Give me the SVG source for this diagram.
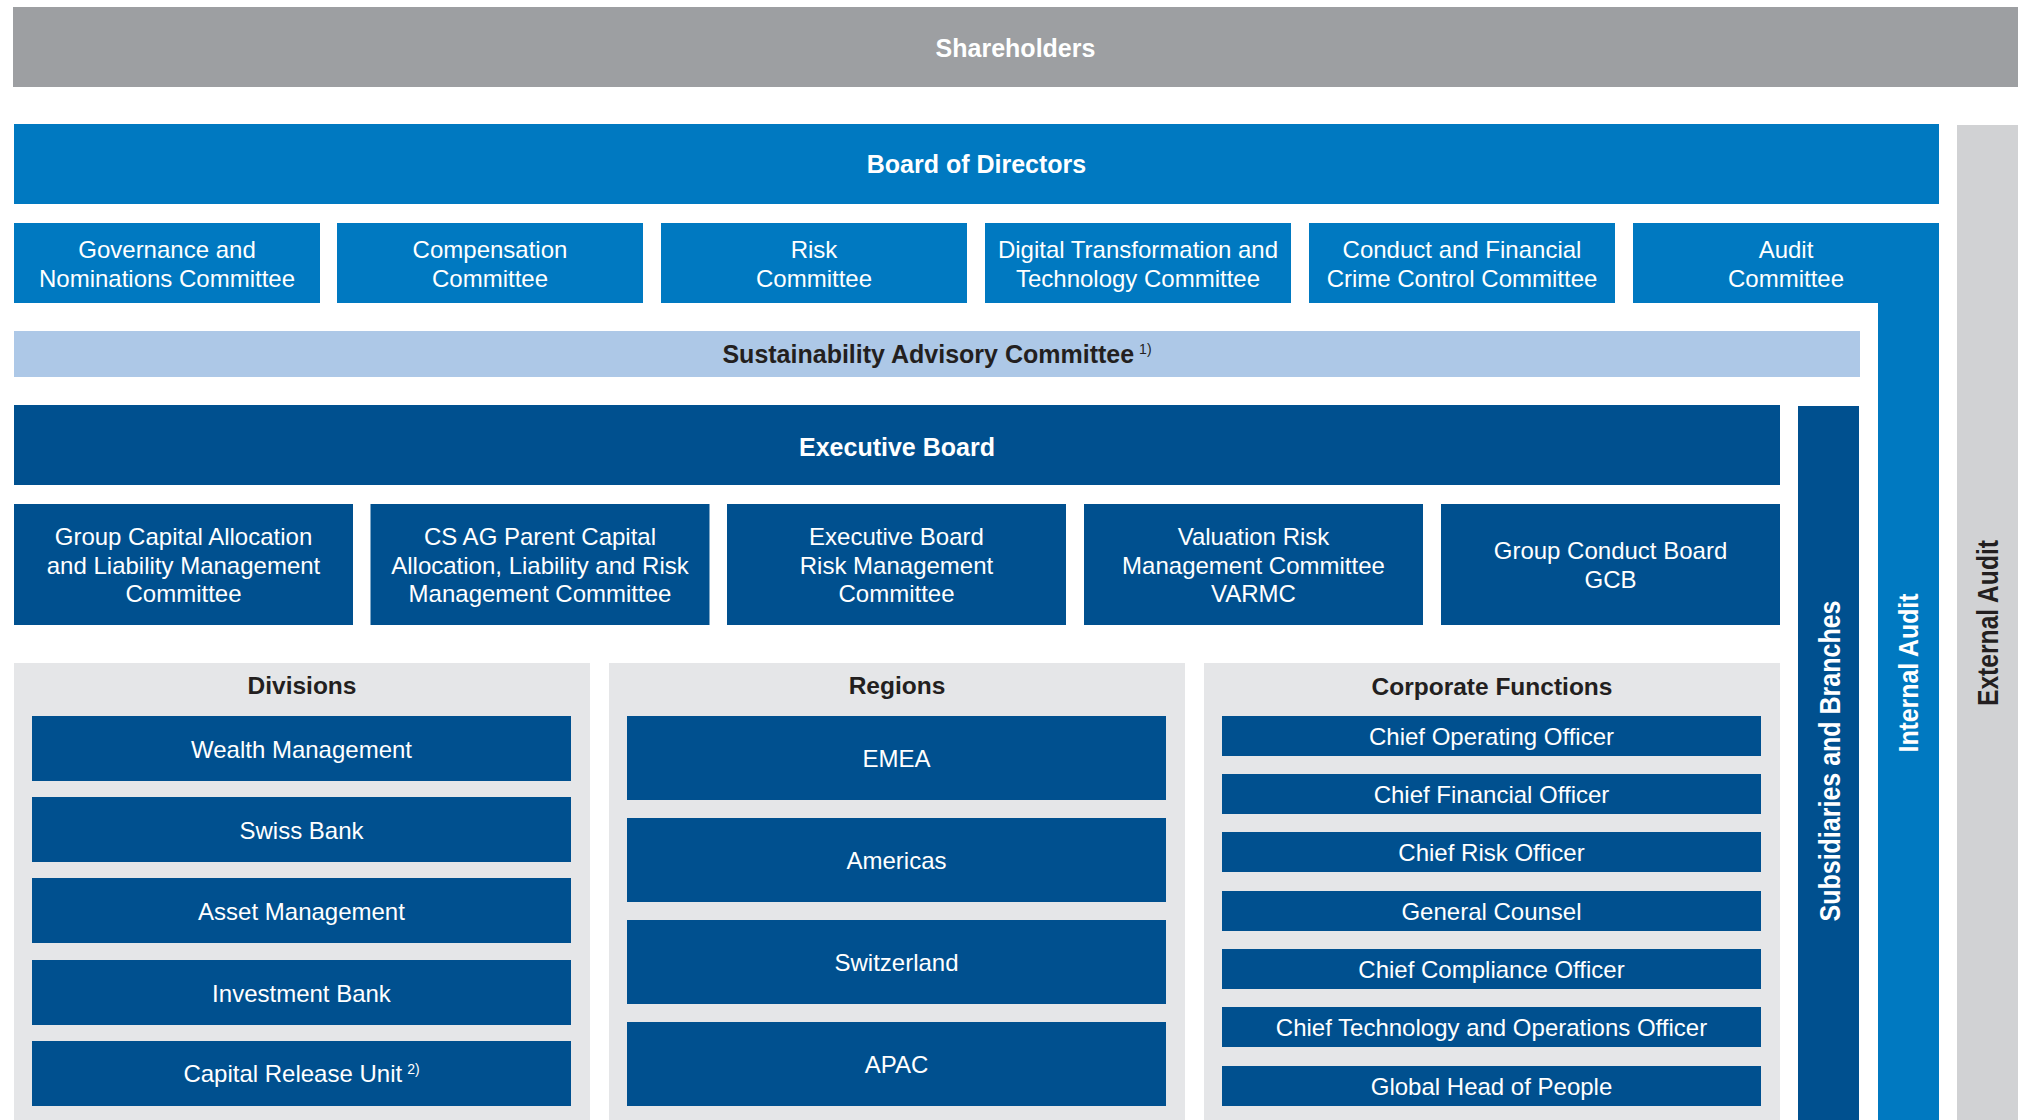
<svg xmlns="http://www.w3.org/2000/svg" width="2027" height="1120" viewBox="0 0 2027 1120">
<style>
text{font-family:"Liberation Sans",Arial,sans-serif}
.w{fill:#fff;font-size:24px;text-anchor:middle}
.wb{fill:#fff;font-size:25px;font-weight:bold;text-anchor:middle}
.db{fill:#231f20;font-size:25px;font-weight:bold;text-anchor:middle}
.hd{fill:#231f20;font-size:24.5px;font-weight:bold;text-anchor:middle}
.sup{font-size:14px;font-weight:normal}
.gray{fill:#9d9fa2}
.blue{fill:#0079c1}
.dark{fill:#00508f}
.light{fill:#adc8e7}
.panel{fill:#e5e6e8}
.ext{fill:#d1d2d4}
</style>
<rect width="2027" height="1120" fill="#fff"/>
<g id="connectors"></g>
<g id="shareholders"><rect class="gray" x="13" y="7" width="2005" height="80"/><text class="wb" x="1015.5" y="57">Shareholders</text></g>
<g id="external-audit"><rect class="ext" x="1957" y="125" width="61" height="995"/><text transform="translate(1998,623) rotate(-90)" style="fill:#231f20;font-size:29px;font-weight:bold;text-anchor:middle" textLength="166" lengthAdjust="spacingAndGlyphs">External Audit</text></g>
<g id="board-of-directors"><rect class="blue" x="14" y="124" width="1925" height="80"/><text class="wb" x="976.5" y="173">Board of Directors</text></g>
<g id="internal-audit"><rect class="blue" x="1878" y="223" width="61" height="897"/><text transform="translate(1918,673) rotate(-90)" style="fill:#fff;font-size:28px;font-weight:bold;text-anchor:middle" textLength="159" lengthAdjust="spacingAndGlyphs">Internal Audit</text></g>
<g id="governance-committee"><rect class="blue" x="14" y="223" width="306" height="80"/><text class="w" x="167" y="258">Governance and</text><text class="w" x="167" y="286.5">Nominations Committee</text></g>
<g id="compensation-committee"><rect class="blue" x="337" y="223" width="306" height="80"/><text class="w" x="490" y="258">Compensation</text><text class="w" x="490" y="286.5">Committee</text></g>
<g id="risk-committee"><rect class="blue" x="661" y="223" width="306" height="80"/><text class="w" x="814" y="258">Risk</text><text class="w" x="814" y="286.5">Committee</text></g>
<g id="digital-committee"><rect class="blue" x="985" y="223" width="306" height="80"/><text class="w" x="1138" y="258">Digital Transformation and</text><text class="w" x="1138" y="286.5">Technology Committee</text></g>
<g id="conduct-committee"><rect class="blue" x="1309" y="223" width="306" height="80"/><text class="w" x="1462" y="258">Conduct and Financial</text><text class="w" x="1462" y="286.5">Crime Control Committee</text></g>
<g id="audit-committee"><rect class="blue" x="1633" y="223" width="306" height="80"/><text class="w" x="1786" y="258">Audit</text><text class="w" x="1786" y="286.5">Committee</text></g>
<g id="sustainability-committee"><rect class="light" x="14" y="331" width="1846" height="46"/><text class="db" x="937" y="363">Sustainability Advisory Committee<tspan class="sup" dx="5" dy="-9">1)</tspan></text></g>
<g id="executive-board"><rect class="dark" x="14" y="405" width="1766" height="80"/><text class="wb" x="897" y="456">Executive Board</text></g>
<g id="subsidiaries"><rect class="dark" x="1798" y="406" width="61" height="714"/><text transform="translate(1840,761) rotate(-90)" style="fill:#fff;font-size:29px;font-weight:bold;text-anchor:middle" textLength="321" lengthAdjust="spacingAndGlyphs">Subsidiaries and Branches</text></g>
<g id="gcalm"><rect class="dark" x="14" y="504" width="339" height="121"/><text class="w" x="183.5" y="545">Group Capital Allocation</text><text class="w" x="183.5" y="573.5">and Liability Management</text><text class="w" x="183.5" y="602">Committee</text></g>
<g id="csag-committee"><rect class="dark" x="370.5" y="504" width="339" height="121"/><text class="w" x="540" y="545">CS AG Parent Capital</text><text class="w" x="540" y="573.5">Allocation, Liability and Risk</text><text class="w" x="540" y="602">Management Committee</text></g>
<g id="ebrmc"><rect class="dark" x="727" y="504" width="339" height="121"/><text class="w" x="896.5" y="545">Executive Board</text><text class="w" x="896.5" y="573.5">Risk Management</text><text class="w" x="896.5" y="602">Committee</text></g>
<g id="varmc"><rect class="dark" x="1084" y="504" width="339" height="121"/><text class="w" x="1253.5" y="545">Valuation Risk</text><text class="w" x="1253.5" y="573.5">Management Committee</text><text class="w" x="1253.5" y="602">VARMC</text></g>
<g id="gcb"><rect class="dark" x="1441" y="504" width="339" height="121"/><text class="w" x="1610.5" y="559">Group Conduct Board</text><text class="w" x="1610.5" y="588">GCB</text></g>
<g id="divisions"><rect class="panel" x="14" y="663" width="576" height="457"/><text class="hd" x="302" y="694">Divisions</text>
<rect class="dark" x="32" y="716" width="539" height="65"/><text class="w" x="301.5" y="758">Wealth Management</text>
<rect class="dark" x="32" y="797" width="539" height="65"/><text class="w" x="301.5" y="839">Swiss Bank</text>
<rect class="dark" x="32" y="878" width="539" height="65"/><text class="w" x="301.5" y="920">Asset Management</text>
<rect class="dark" x="32" y="960" width="539" height="65"/><text class="w" x="301.5" y="1002">Investment Bank</text>
<rect class="dark" x="32" y="1041" width="539" height="65"/><text class="w" x="301.5" y="1082">Capital Release Unit<tspan class="sup" dx="5" dy="-8">2)</tspan></text></g>
<g id="regions"><rect class="panel" x="609" y="663" width="576" height="457"/><text class="hd" x="897" y="694">Regions</text>
<rect class="dark" x="627" y="716" width="539" height="84"/><text class="w" x="896.5" y="767">EMEA</text>
<rect class="dark" x="627" y="818" width="539" height="84"/><text class="w" x="896.5" y="869">Americas</text>
<rect class="dark" x="627" y="920" width="539" height="84"/><text class="w" x="896.5" y="971">Switzerland</text>
<rect class="dark" x="627" y="1022" width="539" height="84"/><text class="w" x="896.5" y="1073">APAC</text></g>
<g id="corporate-functions"><rect class="panel" x="1204" y="663" width="576" height="457"/><text class="hd" x="1492" y="695">Corporate Functions</text>
<rect class="dark" x="1222" y="716" width="539" height="40"/><text class="w" x="1491.5" y="745">Chief Operating Officer</text>
<rect class="dark" x="1222" y="774" width="539" height="40"/><text class="w" x="1491.5" y="803">Chief Financial Officer</text>
<rect class="dark" x="1222" y="832" width="539" height="40"/><text class="w" x="1491.5" y="861">Chief Risk Officer</text>
<rect class="dark" x="1222" y="891" width="539" height="40"/><text class="w" x="1491.5" y="920">General Counsel</text>
<rect class="dark" x="1222" y="949" width="539" height="40"/><text class="w" x="1491.5" y="978">Chief Compliance Officer</text>
<rect class="dark" x="1222" y="1007" width="539" height="40"/><text class="w" x="1491.5" y="1036">Chief Technology and Operations Officer</text>
<rect class="dark" x="1222" y="1066" width="539" height="40"/><text class="w" x="1491.5" y="1095">Global Head of People</text></g>
</svg>
